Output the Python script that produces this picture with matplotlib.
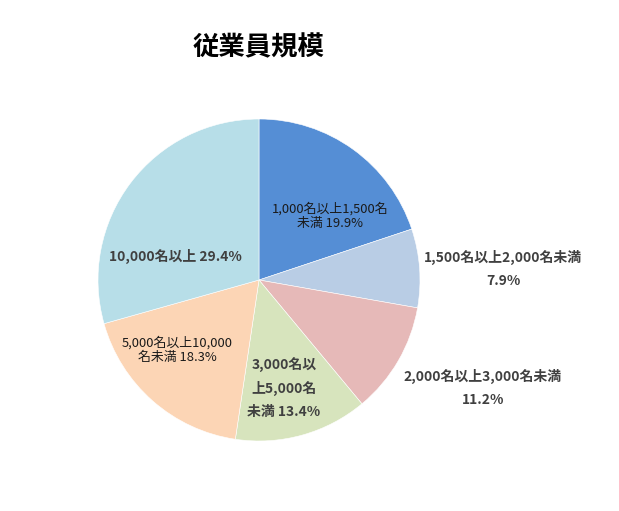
import matplotlib
matplotlib.use('Agg')
import matplotlib.pyplot as plt

plt.rcParams['font.family'] = ['Noto Sans CJK JP', 'DejaVu Sans']

# data (clockwise from 12 o'clock)
categories = ['1,000名以上1,500名未満', '1,500名以上2,000名未満', '2,000名以上3,000名未満',
              '3,000名以上5,000名未満', '5,000名以上10,000名未満', '10,000名以上']
shares = [19.9, 7.9, 11.2, 13.4, 18.3, 29.4]
colors = ['#558ED5', '#B9CDE5', '#E6B9B8', '#D7E4BD', '#FCD5B5', '#B7DEE8']

# label text as it wraps in the picture
label_texts = ['1,000名以上1,500名\n未満 19.9%',
               '1,500名以上2,000名未満\n7.9%',
               '2,000名以上3,000名未満\n11.2%',
               '3,000名以\n上5,000名\n未満 13.4%',
               '5,000名以上10,000\n名未満 18.3%',
               '10,000名以上 29.4%']

W, H = 619, 511
cx, cy, r = 259, 280, 161

fig = plt.figure(figsize=(W / 100, H / 100), dpi=100)
ax = fig.add_axes([(cx - r) / W, (H - cy - r) / H, 2 * r / W, 2 * r / H])
ax.pie(shares, colors=colors, startangle=90, counterclock=False, radius=1,
       wedgeprops=dict(edgecolor='white', linewidth=0.4))
ax.set_xlim(-1, 1)
ax.set_ylim(-1, 1)
ax.set_aspect('equal')
ax.axis('off')


def px(x, y):
    return (x - cx) / r, (cy - y) / r


# label centres in pixels, style per label
label_pos = [(330, 216), (503, 269), (483, 388), (284, 388), (177, 350), (175, 256)]
plain = [True, False, False, False, True, False]

for txt, (x, y), p in zip(label_texts, label_pos, plain):
    dx, dy = px(x, y)
    if p:
        ax.text(dx, dy, txt, ha='center', va='center', fontsize=9.3,
                color='#1a1a1a', linespacing=1.2, clip_on=False)
    else:
        ax.text(dx, dy, txt, ha='center', va='center', fontsize=10,
                color='#404040', fontweight='bold', linespacing=1.8, clip_on=False)

fig.text(259 / W, 1 - 48 / H, '従業員規模', ha='center', va='center',
         fontsize=19, fontweight='bold', color='black')

fig.savefig('out.png', dpi=100, facecolor='white')
